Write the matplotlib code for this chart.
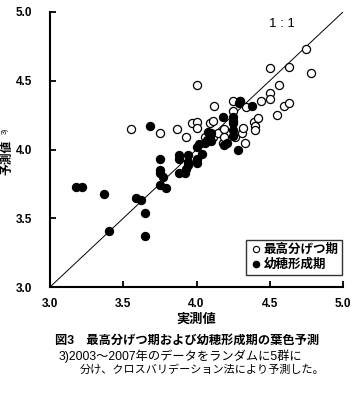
import matplotlib
matplotlib.use('Agg')
import matplotlib.pyplot as plt
from matplotlib.lines import Line2D

plt.rcParams['font.family'] = ['Liberation Sans', 'Noto Sans CJK JP', 'DejaVu Sans']

# 最高分げつ期 (open circles)
tiller_x = [3.55, 3.75, 3.87, 3.93, 3.97, 4.00, 4.00, 4.00, 4.06, 4.09,
            4.11, 4.11, 4.12, 4.15, 4.18, 4.19, 4.19, 4.25, 4.25, 4.26,
            4.30, 4.31, 4.32, 4.33, 4.34, 4.39, 4.40, 4.40, 4.42, 4.44,
            4.50, 4.50, 4.50, 4.55, 4.56, 4.60, 4.63, 4.63, 4.75, 4.78]
tiller_y = [4.15, 4.12, 4.15, 4.09, 4.19, 4.20, 4.16, 4.47, 4.09, 4.19,
            4.21, 4.09, 4.32, 4.12, 4.05, 4.15, 4.09, 4.35, 4.28, 4.09,
            4.35, 4.12, 4.16, 4.05, 4.31, 4.20, 4.17, 4.14, 4.23, 4.35,
            4.41, 4.37, 4.59, 4.25, 4.47, 4.32, 4.34, 4.60, 4.73, 4.56]

# 幼穂形成期 (filled circles)
panicle_x = [3.18, 3.22, 3.37, 3.40, 3.59, 3.62, 3.65, 3.65, 3.68, 3.75,
             3.75, 3.75, 3.75, 3.77, 3.79, 3.88, 3.88, 3.88, 3.92, 3.93,
             3.94, 3.94, 3.94, 4.00, 4.00, 4.00, 4.02, 4.04, 4.06, 4.07,
             4.09, 4.10, 4.10, 4.18, 4.19, 4.21, 4.25, 4.25, 4.25, 4.25,
             4.25, 4.28, 4.29, 4.30, 4.38, 4.08]
panicle_y = [3.73, 3.73, 3.68, 3.41, 3.65, 3.63, 3.54, 3.37, 4.17, 3.93,
             3.85, 3.83, 3.74, 3.80, 3.72, 3.96, 3.93, 3.83, 3.83, 3.86,
             3.96, 3.91, 3.89, 3.90, 3.93, 4.02, 4.04, 3.97, 4.05, 4.07,
             4.10, 4.12, 4.06, 4.24, 4.03, 4.05, 4.24, 4.19, 4.14, 4.10,
             4.21, 4.00, 4.34, 4.35, 4.32, 4.13]

ticks = [3.0, 3.5, 4.0, 4.5, 5.0]
tick_labels = ['3.0', '3.5', '4.0', '4.5', '5.0']

fig = plt.figure(figsize=(3.55, 3.97), dpi=100)
ax = fig.add_axes([50/355, 1-287/397, 293/355, 275/397])

ax.plot([3, 5], [3, 5], color='black', lw=0.7, zorder=1)
ax.scatter(tiller_x, tiller_y, s=34, facecolors='white', edgecolors='black', linewidths=0.9, zorder=2)
ax.scatter(panicle_x, panicle_y, s=34, facecolors='black', edgecolors='black', linewidths=0.9, zorder=3)

ax.set_xlim(3, 5)
ax.set_ylim(3, 5)
ax.set_xticks(ticks)
ax.set_xticklabels(tick_labels, fontsize=8.5, fontweight='bold')
ax.set_yticks(ticks)
ax.set_yticklabels(tick_labels, fontsize=8.5, fontweight='bold')
ax.tick_params(direction='in', length=4, width=1.3)
ax.tick_params(axis='x', pad=8)
ax.tick_params(axis='y', pad=13)
ax.spines['top'].set_visible(False)
ax.spines['right'].set_visible(False)
ax.spines['left'].set_linewidth(1.5)
ax.spines['bottom'].set_linewidth(1.5)

ax.text(4.58, 4.91, '1 : 1', fontsize=9.5, ha='center', va='center')

ax.set_xlabel('実測値', fontsize=9.5, fontweight='bold', labelpad=2)

# y label with superscript note
fig.text(7/355, 1-157/397, '予測値', fontsize=8.5, fontweight='bold',
         rotation=90, ha='center', va='center')
fig.text(5/355, 1-131/397, '3)', fontsize=5, rotation=90, ha='center', va='center')

handles = [Line2D([], [], marker='o', ls='none', mfc='white', mec='black', ms=4.5, mew=0.8),
           Line2D([], [], marker='o', ls='none', mfc='black', mec='black', ms=4.5)]
leg = ax.legend(handles, ['最高分げつ期', '幼穂形成期'], loc='lower right',
                bbox_to_anchor=(0.997, 0.045), frameon=True, fancybox=False,
                edgecolor='black', prop={'size': 9, 'weight': 'bold'},
                handletextpad=0.1, handlelength=1.0, borderpad=0.3,
                labelspacing=0.2, borderaxespad=0)
leg.get_frame().set_linewidth(1.0)

fig.text(55/355, 1-341/397, '図3　最高分げつ期および幼穂形成期の葉色予測',
         fontsize=8.8, fontweight='bold', ha='left', va='center')
fig.text(59/355, 1-356/397, '3)2003～2007年のデータをランダムに5群に',
         fontsize=8.8, ha='left', va='center')
fig.text(80/355, 1-370/397, '分け、クロスバリデーション法により予測した。',
         fontsize=8.0, ha='left', va='center')

fig.savefig('out.png', dpi=100)
